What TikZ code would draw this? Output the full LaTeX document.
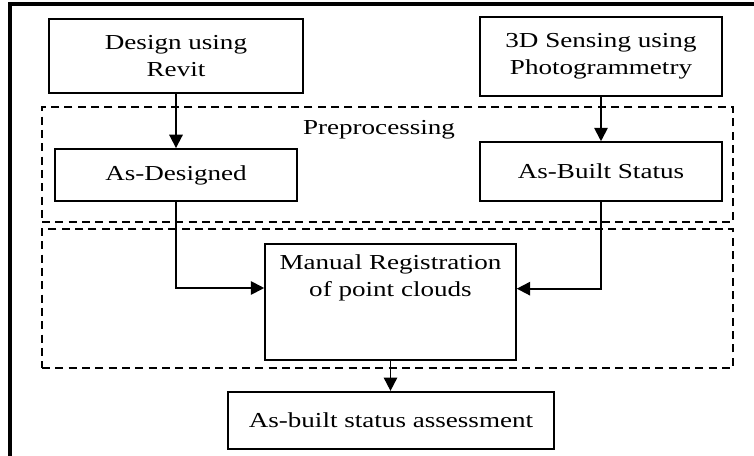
\documentclass[tikz,border=0pt]{standalone}
\usepackage{fontspec}
\setmainfont{Liberation Serif}[FakeStretch=1.27]
\usetikzlibrary{arrows.meta,positioning}

\begin{document}
\begin{tikzpicture}[x=0.75pt, y=-0.75pt,
    every node/.style={font=\fontsize{16}{20}\selectfont},
    box/.style={draw, line width=1.4pt, align=center, inner sep=3pt},
    zone/.style={draw, dashed, dash pattern=on 6pt off 4pt, line width=1.1pt, inner sep=0pt},
    arr/.style={line width=1.4pt, -{Triangle[length=10pt, width=10pt]}}]
\useasboundingbox (0,0) rectangle (754,456);
\draw[line width=2.6pt] (10,456) -- (10,4) -- (754,4);

\node[zone, minimum width=518.25pt, minimum height=86.25pt] (prep)   at (387.5,164.5) {};
\node[zone, minimum width=518.25pt, minimum height=104.25pt] (regzone) at (387.5,298.5) {};
\node (preplbl) at (379,130) {Preprocessing};

\node[box, minimum width=190.5pt, minimum height=55.5pt] (design)   at (176,56)    {Design using\\Revit};
\node[box, minimum width=181.5pt, minimum height=59pt]   (sensing)  at (601,56.5)  {3D Sensing using\\Photogrammetry};
\node[box, minimum width=181.5pt, minimum height=39pt]   (designed) at (176,175)   {As-Designed};
\node[box, minimum width=181.5pt, minimum height=44pt]   (built)    at (601,171.5) {As-Built Status};
\node[box, anchor=north, minimum width=188pt, text depth=40pt, inner ysep=8pt] (reg) at (390.5,243)
    {Manual Registration\\of point clouds};
\node[box, minimum width=244.5pt, minimum height=43pt]   (assess)   at (391,420.5) {As-built status assessment};

\draw[arr] (design) -- (designed);
\draw[arr] (sensing) -- (built);
\draw[arr] (designed.south) |- ([yshift=10.5pt]reg.west);
\draw[arr] (built.south) |- ([yshift=10pt]reg.east);
\draw[arr] (reg.south) -- (reg.south |- assess.north);
\end{tikzpicture}
\end{document}
